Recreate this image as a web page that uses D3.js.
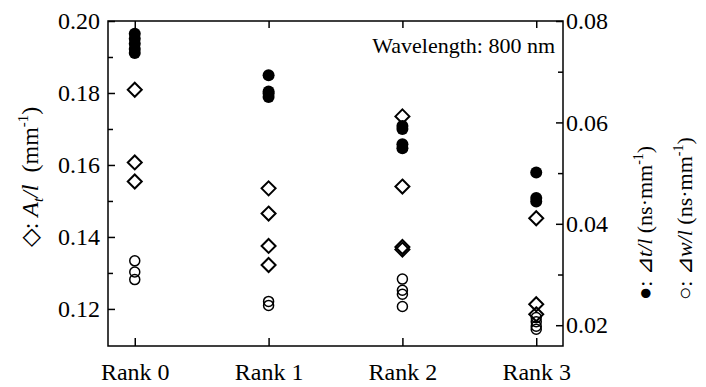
<!DOCTYPE html>
<html>
<head>
<meta charset="utf-8">
<script src="https://cdn.jsdelivr.net/npm/d3@7"></script>
<style>
	body { margin: 0; background: #fff; }
</style>
</head>
<body>
<svg id="chart" width="706" height="387"></svg>
<script>
/*global d3*/
'use strict';

// Categories along the bottom
var ranks = ['Rank 0', 'Rank 1', 'Rank 2', 'Rank 3'];

// Diamonds: A_t/l (mm^-1), left axis, one list per rank
var at_values = [
	[0.1809, 0.1607, 0.1554],
	[0.1535, 0.1465, 0.1375, 0.1322],
	[0.1735, 0.1540, 0.1372, 0.1365],
	[0.1452, 0.1213, 0.1185]
];

// Filled circles: delta t / l (ns/mm), right axis
var dt_values = [
	[0.0775, 0.0765, 0.0755, 0.0745, 0.0737],
	[0.0693, 0.0661, 0.0657, 0.0650],
	[0.0593, 0.0587, 0.0557, 0.0549],
	[0.0501, 0.0451, 0.0444]
];

// Open circles: delta w / l (ns/mm), right axis
var dw_values = [
	[0.0327, 0.0305, 0.0290],
	[0.0247, 0.0239],
	[0.0291, 0.0269, 0.0261, 0.0237],
	[0.0215, 0.0207, 0.0198, 0.0192]
];

var left_ticks = [0.12, 0.14, 0.16, 0.18, 0.20];
var left_minor = [0.13, 0.15, 0.17, 0.19];
var right_ticks = [0.02, 0.04, 0.06, 0.08];
var right_minor = [0.03, 0.05, 0.07];

var serif = '"Liberation Serif", "Times New Roman", Times, serif';


//===============================================================
// Draw the chart
//===============================================================

var svg = d3.select('#chart').style('font-family', serif);
var frame = { left: 108, right: 563, top: 21, bottom: 346 };

var x_scale = d3.scalePoint()
	.domain(ranks)
	.range([frame.left, frame.right])
	.padding(0.2);
var y_left = d3.scaleLinear().domain([0.1097, 0.20]).range([frame.bottom, frame.top]);
var y_right = d3.scaleLinear().domain([0.0159, 0.08]).range([frame.bottom, frame.top]);

// Turn the per-rank lists into flat point lists
function flatten(values) {
	var points = [];
	values.forEach(function(list, i) {
		list.forEach(function(v) { points.push({ rank: ranks[i], value: v }); });
	});
	return points;
}

// Axes, all with ticks pointing into the frame
function styleAxis(g) {
	g.attr('font-family', null);
	g.select('.domain').remove();
	g.selectAll('line').attr('stroke', '#000').attr('stroke-width', 1.5);
	g.selectAll('text')
		.style('font-family', serif)
		.style('font-size', '24px');
}

svg.append('g')
	.attr('transform', 'translate(' + frame.left + ',0)')
	.call(d3.axisLeft(y_left).tickValues(left_ticks).tickSize(-7).tickPadding(8)
		.tickFormat(d3.format('.2f')))
	.call(styleAxis);
svg.append('g')
	.attr('transform', 'translate(' + frame.left + ',0)')
	.call(d3.axisLeft(y_left).tickValues(left_minor).tickSize(-5).tickFormat(''))
	.call(styleAxis);

svg.append('g')
	.attr('transform', 'translate(' + frame.right + ',0)')
	.call(d3.axisRight(y_right).tickValues(right_ticks).tickSize(-7).tickPadding(3)
		.tickFormat(d3.format('.2f')))
	.call(styleAxis);
svg.append('g')
	.attr('transform', 'translate(' + frame.right + ',0)')
	.call(d3.axisRight(y_right).tickValues(right_minor).tickSize(-5).tickFormat(''))
	.call(styleAxis);

svg.append('g')
	.attr('transform', 'translate(0,' + frame.bottom + ')')
	.call(d3.axisBottom(x_scale).tickSize(-8).tickPadding(17))
	.call(styleAxis);
svg.append('g')
	.attr('transform', 'translate(0,' + frame.top + ')')
	.call(d3.axisTop(x_scale).tickSize(-7).tickFormat(''))
	.call(styleAxis);

// The box round the plot
svg.append('rect')
	.attr('x', frame.left)
	.attr('y', frame.top)
	.attr('width', frame.right - frame.left)
	.attr('height', frame.bottom - frame.top)
	.attr('fill', 'none')
	.attr('stroke', '#000')
	.attr('stroke-width', 1.5);

// Diamonds
var dsize = 7;
svg.selectAll('path.diamond')
	.data(flatten(at_values))
	.enter().append('path')
	.attr('class', 'diamond')
	.attr('d', function(d) {
		var cx = x_scale(d.rank), cy = y_left(d.value);
		return 'M' + cx + ',' + (cy - dsize) + 'L' + (cx + dsize) + ',' + cy +
			'L' + cx + ',' + (cy + dsize) + 'L' + (cx - dsize) + ',' + cy + 'Z';
	})
	.attr('fill', 'none')
	.attr('stroke', '#000')
	.attr('stroke-width', 2);

// Open circles
svg.selectAll('circle.open')
	.data(flatten(dw_values))
	.enter().append('circle')
	.attr('class', 'open')
	.attr('cx', function(d) { return x_scale(d.rank); })
	.attr('cy', function(d) { return y_right(d.value); })
	.attr('r', 5)
	.attr('fill', 'none')
	.attr('stroke', '#000')
	.attr('stroke-width', 1.5);

// Filled circles
svg.selectAll('circle.filled')
	.data(flatten(dt_values))
	.enter().append('circle')
	.attr('class', 'filled')
	.attr('cx', function(d) { return x_scale(d.rank); })
	.attr('cy', function(d) { return y_right(d.value); })
	.attr('r', 6)
	.attr('fill', '#000');

// Note in the corner
svg.append('text')
	.attr('x', 555)
	.attr('y', 53)
	.attr('text-anchor', 'end')
	.style('font-family', serif)
	.style('font-size', '22px')
	.text('Wavelength: 800 nm');

// Left axis title
var left_title = svg.append('text')
	.attr('transform', 'translate(38,177) rotate(-90)')
	.attr('text-anchor', 'middle')
	.style('font-family', serif)
	.style('font-size', '24px');
left_title.append('tspan').text('\u25C7: ');
left_title.append('tspan').style('font-style', 'italic').text('A');
left_title.append('tspan').attr('dy', 5).style('font-size', '15px').style('font-style', 'italic').text('t');
left_title.append('tspan').attr('dy', -5).style('font-style', 'italic').text('/l');
left_title.append('tspan').text('\u00A0\u00A0(mm');
left_title.append('tspan').attr('dy', -10).style('font-size', '15px').text('-1');
left_title.append('tspan').attr('dy', 10).text(')');

// Right axis titles
function rightTitle(x, mark, letter) {
	var t = svg.append('text')
		.attr('transform', 'translate(' + x + ',300) rotate(-90)')
		.style('font-family', serif)
		.style('font-size', '22px');
	t.append('tspan').text(mark + ': \u22BF');
	t.append('tspan').style('font-style', 'italic').text(letter + '/l');
	t.append('tspan').text(' (ns\u00B7mm');
	t.append('tspan').attr('dy', -9).style('font-size', '14px').text('-1');
	t.append('tspan').attr('dy', 9).text(')');
}
rightTitle(652, '\u25CF', 't');
rightTitle(692, '\u25CB', 'w');
</script>
</body>
</html>
